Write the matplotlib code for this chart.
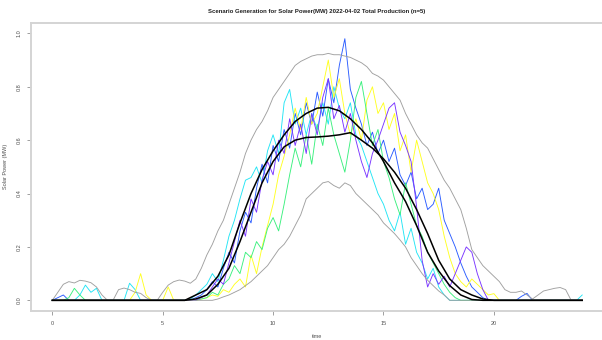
import numpy as np
import matplotlib
matplotlib.use("Agg")
import matplotlib.pyplot as plt

# time grid of the scenarios (quarter hours)
hours = np.arange(97) * 0.25

blue = [0.0, 0.01, 0.02, 0.0,  0.0, 0.0, 0.0, 0.0,  0.0, 0.0, 0.0, 0.0,  0.0, 0.0, 0.0, 0.0,
        0.0, 0.0, 0.0, 0.0,  0.0, 0.0, 0.0, 0.0,  0.0, 0.0, 0.01, 0.02,
        0.04, 0.07, 0.05, 0.12,  0.18, 0.14, 0.26, 0.33,  0.29, 0.42, 0.51, 0.44,
        0.58, 0.52, 0.64, 0.57,  0.70, 0.62, 0.74, 0.66,  0.78, 0.69, 0.83, 0.74,
        0.88, 0.98, 0.79, 0.72,  0.66, 0.58, 0.63, 0.55,  0.60, 0.52, 0.57, 0.47,
        0.43, 0.48, 0.38, 0.42,  0.34, 0.36, 0.42, 0.30,  0.25, 0.20, 0.14, 0.09,
        0.05, 0.03, 0.01, 0.0,  0.0, 0.0, 0.0, 0.0,  0.0, 0.015, 0.026, 0.0,
        0.0, 0.0, 0.0, 0.0,  0.0, 0.0, 0.0, 0.0,  0.0]

purple = [0.0, 0.0, 0.0, 0.0,  0.0, 0.0, 0.0, 0.0,  0.0, 0.0, 0.0, 0.0,  0.0, 0.0, 0.0, 0.0,
          0.0, 0.0, 0.0, 0.0,  0.0, 0.0, 0.0, 0.0,  0.0, 0.0, 0.0, 0.01,
          0.02, 0.05, 0.08, 0.06,  0.14, 0.22, 0.30, 0.24,  0.38, 0.33, 0.45, 0.52,
          0.47, 0.60, 0.55, 0.68,  0.58, 0.66, 0.55, 0.70,  0.62, 0.76, 0.83, 0.68,
          0.73, 0.63, 0.70, 0.60,  0.52, 0.46, 0.55, 0.60,  0.66, 0.72, 0.74, 0.63,
          0.58, 0.52, 0.35, 0.15,  0.05, 0.10, 0.06, 0.09,  0.05, 0.10, 0.15, 0.20,
          0.18, 0.10, 0.04, 0.0,  0.0, 0.0, 0.0, 0.0,  0.0, 0.0, 0.0, 0.0,
          0.0, 0.0, 0.0, 0.0,  0.0, 0.0, 0.0, 0.0,  0.0]

yellow = [0.0, 0.0, 0.0, 0.0,  0.0, 0.0, 0.0, 0.0,  0.0, 0.0, 0.0, 0.0,  0.0, 0.0, 0.0, 0.03,
          0.10, 0.02, 0.0, 0.0,  0.0, 0.05, 0.0, 0.0,  0.0, 0.0, 0.0, 0.005,
          0.01, 0.02, 0.015, 0.04,  0.03, 0.06, 0.08, 0.05,  0.17, 0.10, 0.20, 0.28,
          0.36, 0.47, 0.54, 0.62,  0.72, 0.64, 0.76, 0.66,  0.70, 0.80, 0.90, 0.76,
          0.83, 0.70, 0.62, 0.68,  0.60, 0.75, 0.80, 0.70,  0.74, 0.64, 0.70, 0.56,
          0.62, 0.48, 0.60, 0.52,  0.44, 0.40, 0.34, 0.24,  0.16, 0.10, 0.07, 0.05,
          0.08, 0.06, 0.04, 0.02,  0.025, 0.0, 0.0, 0.0,  0.0, 0.0, 0.0, 0.0,
          0.0, 0.0, 0.0, 0.0,  0.0, 0.0, 0.0, 0.0,  0.0]

green = [0.0, 0.0, 0.0, 0.01,  0.045, 0.02, 0.0, 0.0,  0.0, 0.0, 0.0, 0.0,  0.0, 0.0, 0.0, 0.0,
         0.0, 0.0, 0.0, 0.0,  0.0, 0.0, 0.0, 0.0,  0.0, 0.0, 0.0, 0.005,
         0.01, 0.03, 0.02, 0.06,  0.08, 0.13, 0.10, 0.18,  0.16, 0.22, 0.19, 0.27,
         0.31, 0.26, 0.36, 0.47,  0.57, 0.50, 0.62, 0.51,  0.66, 0.58, 0.72, 0.62,
         0.55, 0.48, 0.60, 0.76,  0.82, 0.70, 0.58, 0.64,  0.52, 0.46, 0.38, 0.32,
         0.44, 0.36, 0.28, 0.24,  0.18, 0.14, 0.10, 0.06,  0.03, 0.01, 0.0, 0.0,
         0.0, 0.0, 0.0, 0.0,  0.0, 0.0, 0.0, 0.0,  0.0, 0.0, 0.0, 0.0,
         0.0, 0.0, 0.0, 0.0,  0.0, 0.0, 0.0, 0.0,  0.0]

cyan = [0.0, 0.0, 0.0, 0.0,  0.0, 0.02, 0.057, 0.03,  0.045, 0.0, 0.0, 0.0,  0.0, 0.0, 0.064, 0.04,
        0.0, 0.0, 0.0, 0.0,  0.0, 0.0, 0.0, 0.0,  0.0, 0.005, 0.02, 0.04,
        0.06, 0.10, 0.07, 0.15,  0.24, 0.30, 0.38, 0.45,  0.46, 0.50, 0.44, 0.56,
        0.62, 0.55, 0.74, 0.79,  0.66, 0.72, 0.62, 0.70,  0.64, 0.74, 0.66, 0.80,
        0.72, 0.68, 0.74, 0.62,  0.58, 0.52, 0.46, 0.40,  0.36, 0.30, 0.26, 0.33,
        0.21, 0.27, 0.18, 0.14,  0.08, 0.12, 0.05, 0.02,  0.0, 0.0, 0.0, 0.0,
        0.0, 0.0, 0.0, 0.0,  0.0, 0.0, 0.0, 0.0,  0.0, 0.0, 0.0, 0.0,
        0.0, 0.0, 0.0, 0.0,  0.0, 0.0, 0.0, 0.0,  0.02]

upper = [0.0, 0.03, 0.06, 0.07,  0.065, 0.075, 0.072, 0.066,  0.05, 0.02, 0.0, 0.0,
         0.04, 0.046, 0.04, 0.03,  0.026, 0.01, 0.0, 0.0,  0.03, 0.057, 0.07, 0.076,
         0.072, 0.064, 0.08, 0.12,  0.17, 0.21, 0.26, 0.30,  0.36, 0.42, 0.48, 0.55,
         0.60, 0.64, 0.67, 0.71,  0.76, 0.79, 0.82, 0.85,  0.88, 0.895, 0.905, 0.915,
         0.92, 0.92, 0.925, 0.92,  0.92, 0.915, 0.91, 0.90,  0.89, 0.875, 0.85, 0.84,
         0.825, 0.80, 0.775, 0.75,  0.70, 0.66, 0.62, 0.59,  0.57, 0.53, 0.49, 0.45,
         0.42, 0.38, 0.34, 0.27,  0.19, 0.16, 0.13, 0.11,  0.09, 0.07, 0.04, 0.03,
         0.03, 0.035, 0.02, 0.005,  0.02, 0.035, 0.04, 0.045,  0.048, 0.04, 0.0, 0.0,  0.0]

lower = [0.0] * 29 + [
         0.0, 0.005, 0.013,  0.02, 0.03, 0.04, 0.055,  0.07, 0.09, 0.11, 0.13,
         0.16, 0.19, 0.21, 0.24,  0.28, 0.32, 0.38, 0.40,  0.42, 0.44, 0.445, 0.43,
         0.42, 0.44, 0.43, 0.40,  0.38, 0.36, 0.34, 0.32,  0.29, 0.27, 0.25, 0.226,
         0.20, 0.16, 0.13, 0.10,  0.075, 0.055, 0.035, 0.02,  0.0] + [0.0] * 24

# half-hour grid for the two smooth curves
half_hours = np.arange(49) * 0.5
mean_curve = [0.0] * 12 + [0.0, 0.02, 0.04, 0.09, 0.17, 0.29, 0.40, 0.49, 0.56, 0.62,
              0.67, 0.70, 0.72, 0.723, 0.71, 0.68, 0.64, 0.59, 0.52, 0.44,
              0.37, 0.28, 0.18, 0.11, 0.055, 0.02, 0.003, 0.0] + [0.0] * 9
median_curve = [0.0] * 12 + [0.0, 0.005, 0.02, 0.06, 0.12, 0.22, 0.33, 0.44, 0.52, 0.575,
                0.60, 0.61, 0.612, 0.615, 0.62, 0.628, 0.60, 0.57, 0.53, 0.48,
                0.42, 0.34, 0.25, 0.15, 0.08, 0.04, 0.02, 0.005, 0.0] + [0.0] * 8

scenarios = [blue, cyan, yellow, green, purple]
colors = ["#2a5cff", "#22e5f5", "#ffff22", "#3bf07e", "#7a35ff"]

plt.rcParams["font.family"] = ["Liberation Sans", "DejaVu Sans"]
fig = plt.figure(figsize=(6.02, 3.4), dpi=100)
ax = fig.add_axes([31.1 / 602, 1 - 311 / 340, 572.3 / 602, 288.3 / 340])

for vals, c in zip(scenarios, colors):
    ax.plot(hours, vals, color=c, lw=0.65)
ax.plot(hours, upper, color="#a0a0a0", lw=0.65)
ax.plot(hours, lower, color="#a0a0a0", lw=0.65)
ax.plot(half_hours, mean_curve, color="black", lw=1.1)
ax.plot(half_hours, median_curve, color="black", lw=1.1)

ax.set_xlim(-0.96, 24.96)
ax.set_ylim(-0.04, 1.04)
ax.set_xticks([0, 5, 10, 15, 20])
ax.set_yticks([0.0, 0.2, 0.4, 0.6, 0.8, 1.0])
ax.set_yticklabels(["0.0", "0.2", "0.4", "0.6", "0.8", "1.0"], rotation=90, va="center")
ax.tick_params(length=3, width=0.6, color="#909090", labelsize=4, labelcolor="#505050", pad=4)
for s in ax.spines.values():
    s.set_color("#d4d4d4")
    s.set_linewidth(1.4)

ax.set_xlabel("time", fontsize=4, color="#505050", labelpad=6)
ax.set_ylabel("Solar Power (MW)", fontsize=4, color="#505050", labelpad=6)
fig.text(317 / 602, 1 - 11 / 340, "Scenario Generation for Solar Power(MW) 2022-04-02 Total Production (n=5)",
         ha="center", va="center", fontsize=4.3, fontweight="bold", color="#202020")

fig.savefig("out.png", dpi=100)
